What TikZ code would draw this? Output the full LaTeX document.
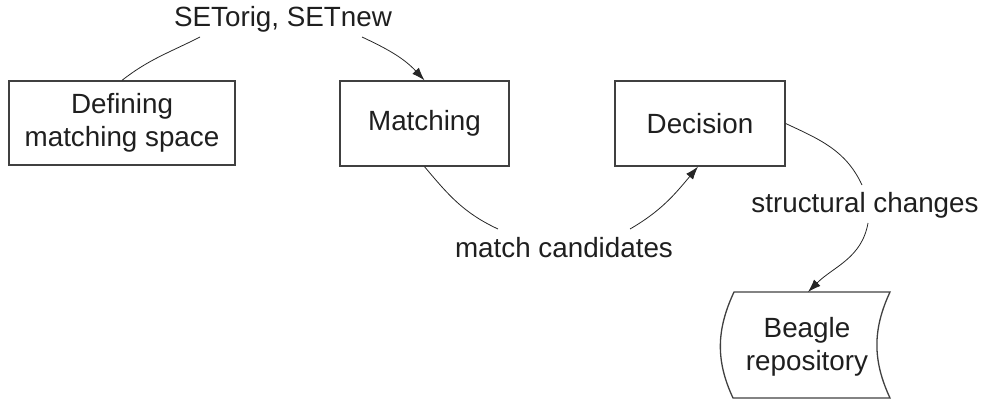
\documentclass[tikz,border=0pt]{standalone}
\usepackage{fontspec}
\setmainfont{Liberation Sans}
\usetikzlibrary{arrows.meta}
\begin{document}
\begin{tikzpicture}[x=1pt,y=1pt,
  every node/.style={font=\fontsize{27.8}{33}\selectfont, text=black!88},
  procbox/.style={draw=black!75, line width=1.3pt, rectangle, align=center, inner sep=0pt},
  flow/.style={draw=black!85, line width=0.8pt},
  flowarrow/.style={flow, -{Latex[length=13pt,width=9pt]}},
  lbl/.style={anchor=base, inner sep=0pt}
]
\path[use as bounding box] (0,0) rectangle (985,-401);

% process boxes
\node[procbox, minimum width=226, minimum height=84] (def) at (122,-123) {Defining\\matching space};
\node[procbox, minimum width=169, minimum height=85] (match) at (424.5,-123.5) {Matching};
\node[procbox, minimum width=170, minimum height=85] (dec) at (700,-123.5) {Decision};

% stored-data shape for the repository
\node[align=center, inner sep=0pt] (repo) at (807,-347) {Beagle\\repository};
\coordinate (rnw) at (734,-292);
\coordinate (rne) at (890,-292);
\coordinate (rse) at (890,-398);
\coordinate (rsw) at (733,-398);
\coordinate (rtop) at (808,-292);
\draw[draw=black!75, line width=1.3pt]
  (rnw) -- (rne) to[out=-115, in=115] (rse)
  -- (rsw) to[out=115, in=-115] (rnw) -- cycle;

% edge labels
\node[lbl] (l1) at (283,-27) {SETorig, SETnew};
\node[lbl] (l2) at (564,-257) {match candidates};
\node[lbl] (l3) at (865,-212) {structural changes};

% free ends of connectors next to the labels
\coordinate (a1) at (200,-37);
\coordinate (b1) at (362,-37);
\coordinate (a2) at (498,-229);
\coordinate (b2) at (630,-229);
\coordinate (a3) at (862,-185);
\coordinate (b3) at (868,-223);

% connectors
\draw[flow] (def.north) to[out=38, in=-153] (a1);
\draw[flowarrow] (b1) to[out=-25, in=133] (match.north);
\draw[flow] (match.south) to[out=-50, in=155] (a2);
\draw[flowarrow] (b2) to[out=30, in=-130] ([xshift=-2]dec.south);
\draw[flow] (dec.east) to[out=-25, in=115] (a3);
\draw[flowarrow] (b3) to[out=-100, in=45] (rtop);
\end{tikzpicture}
\end{document}
